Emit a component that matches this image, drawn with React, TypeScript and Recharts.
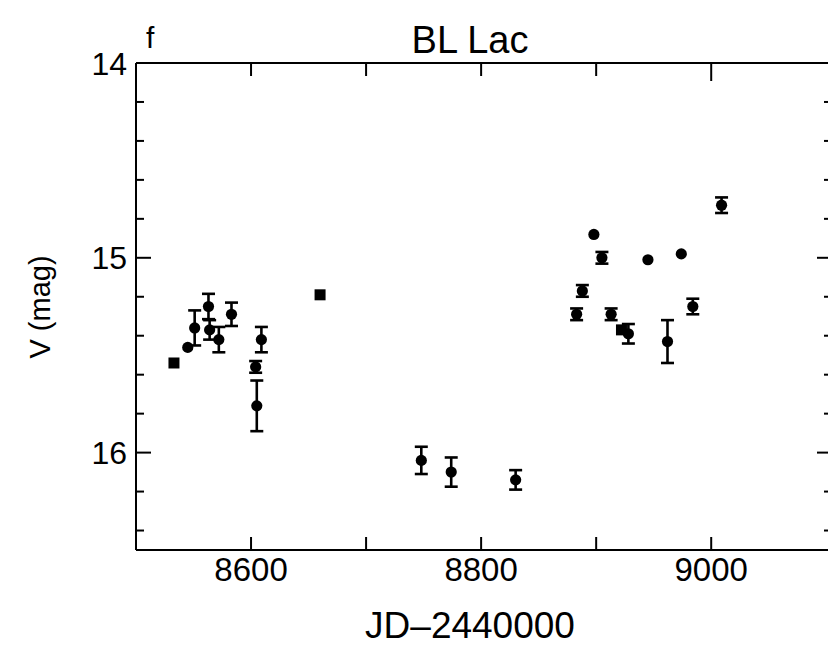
import { ScatterChart, Scatter, XAxis, YAxis, ErrorBar, Label } from "recharts";

// JD-2440000 / V mag
const errJd = [8551, 8563, 8564, 8572, 8583, 8609, 8604, 8605, 8748, 8774, 8830, 8905, 8888, 8883, 8913, 8928, 8962, 8984, 9009];
const errMag = [15.36, 15.25, 15.37, 15.42, 15.29, 15.42, 15.56, 15.76, 16.04, 16.1, 16.14, 15.0, 15.17, 15.29, 15.29, 15.39, 15.43, 15.25, 14.73];
const errVal = [0.09, 0.065, 0.05, 0.065, 0.06, 0.065, 0.03, 0.13, 0.07, 0.075, 0.05, 0.03, 0.03, 0.03, 0.03, 0.05, 0.11, 0.04, 0.04];

const dotJd = [8545, 8898, 8945, 8974];
const dotMag = [15.46, 14.88, 15.01, 14.98];

const sqJd = [8533, 8660, 8922];
const sqMag = [15.54, 15.19, 15.37];

const xTicks = [8600, 8700, 8800, 8900, 9000];
const xLabels = [8600, 8800, 9000];
const yTicks = [14, 14.2, 14.4, 14.6, 14.8, 15, 15.2, 15.4, 15.6, 15.8, 16, 16.2, 16.4];
const yLabels = [14, 15, 16];

const errData = errJd.map((jd, i) => ({ jd, mag: errMag[i], err: errVal[i] }));
const dotData = dotJd.map((jd, i) => ({ jd, mag: dotMag[i] }));
const sqData = sqJd.map((jd, i) => ({ jd, mag: sqMag[i] }));

const FONT = "'Liberation Sans', Arial, sans-serif";
const W = 828;
const H = 655;
// the right edge of the frame falls just outside the picture
const CHART_W = 834;
const LEFT = 136;
const TOP = 63;
const BOTTOM = 105;
const RIGHT = 2;

const Dot = (p: any) => <circle cx={p.cx} cy={p.cy} r={5.6} fill="#000" />;
const Square = (p: any) => <rect x={p.cx - 5.5} y={p.cy - 5.5} width={11} height={11} fill="#000" />;

const isMajorY = (v: number) => Math.abs(v - Math.round(v)) < 1e-6;

function LeftTick(p: any) {
  const v = p.payload.value;
  const len = isMajorY(v) && v > 14 ? 15 : 8;
  const ax = p.x + 9;
  return (
    <g>
      <line x1={ax} x2={ax + len} y1={p.y} y2={p.y} stroke="#000" strokeWidth={2} />
      {yLabels.includes(v) && (
        <text x={p.x} y={p.y} dy="0.36em" textAnchor="end" fontSize={32} fontFamily={FONT} fill="#000">
          {v}
        </text>
      )}
    </g>
  );
}

function RightTick(p: any) {
  const v = p.payload.value;
  if (v === 14) return null;
  const len = isMajorY(v) ? 15 : 8;
  return <line x1={p.x} x2={p.x - len} y1={p.y} y2={p.y} stroke="#000" strokeWidth={2} />;
}

function BottomTick(p: any) {
  const v = p.payload.value;
  return (
    <g>
      <line x1={p.x} x2={p.x} y1={p.y} y2={p.y - 13} stroke="#000" strokeWidth={2} />
      {xLabels.includes(v) && (
        <text x={p.x} y={p.y + 31} textAnchor="middle" fontSize={33} fontFamily={FONT} fill="#000">
          {v}
        </text>
      )}
    </g>
  );
}

function TopTick(p: any) {
  const v = p.payload.value;
  const len = v === 9000 ? 18 : 13;
  return <line x1={p.x} x2={p.x} y1={p.y} y2={p.y + len} stroke="#000" strokeWidth={2} />;
}

export default function App() {
  return (
    <div style={{ position: "absolute", left: 0, top: 0, width: W, height: H, overflow: "hidden", background: "#fff" }}>
      <div style={{ position: "absolute", left: 146, top: 21, fontFamily: FONT, fontSize: 30 }}>f</div>
      <div style={{ position: "absolute", left: 0, width: 940, top: 19, textAlign: "center", fontFamily: FONT, fontSize: 38 }}>
        BL Lac
      </div>
      <ScatterChart width={CHART_W} height={H} margin={{ top: 0, right: 0, bottom: 0, left: 0 }}>
        <XAxis
          xAxisId="b"
          type="number"
          dataKey="jd"
          domain={[8500, 9105]}
          ticks={xTicks}
          height={BOTTOM}
          tickSize={0}
          tickMargin={0}
          tickLine={false}
          tick={BottomTick}
          axisLine={{ stroke: "#000", strokeWidth: 2 }}
          allowDataOverflow
        >
          <Label
            content={() => (
              <text x={470} y={638} textAnchor="middle" fontSize={37} fontFamily={FONT} fill="#000">
                JD–2440000
              </text>
            )}
          />
        </XAxis>
        <XAxis
          xAxisId="t"
          orientation="top"
          type="number"
          dataKey="jd"
          domain={[8500, 9105]}
          ticks={xTicks}
          height={TOP}
          tickSize={0}
          tickMargin={0}
          tickLine={false}
          tick={TopTick}
          axisLine={{ stroke: "#000", strokeWidth: 2 }}
          allowDataOverflow
        />
        <YAxis
          yAxisId="l"
          type="number"
          dataKey="mag"
          reversed
          domain={[14, 16.5]}
          ticks={yTicks}
          width={LEFT}
          tickSize={0}
          tickMargin={9}
          tickLine={false}
          tick={LeftTick}
          axisLine={{ stroke: "#000", strokeWidth: 2 }}
          allowDataOverflow
        >
          <Label
            content={() => (
              <text
                x={40}
                y={307}
                transform="rotate(-90 40 307)"
                dy="0.36em"
                textAnchor="middle"
                fontSize={29}
                fontFamily={FONT}
                fill="#000"
              >
                V (mag)
              </text>
            )}
          />
        </YAxis>
        <YAxis
          yAxisId="r"
          orientation="right"
          type="number"
          dataKey="mag"
          reversed
          domain={[14, 16.5]}
          ticks={yTicks}
          width={RIGHT}
          tickSize={0}
          tickMargin={0}
          tickLine={false}
          tick={RightTick}
          axisLine={{ stroke: "#000", strokeWidth: 2 }}
          allowDataOverflow
        />
        <Scatter data={errData} xAxisId="b" yAxisId="l" shape={Dot} isAnimationActive={false}>
          <ErrorBar dataKey="err" direction="y" width={6.5} stroke="#000" strokeWidth={2.6} isAnimationActive={false} />
        </Scatter>
        <Scatter data={dotData} xAxisId="b" yAxisId="l" shape={Dot} isAnimationActive={false} />
        <Scatter data={sqData} xAxisId="b" yAxisId="l" shape={Square} isAnimationActive={false} />
      </ScatterChart>
    </div>
  );
}
